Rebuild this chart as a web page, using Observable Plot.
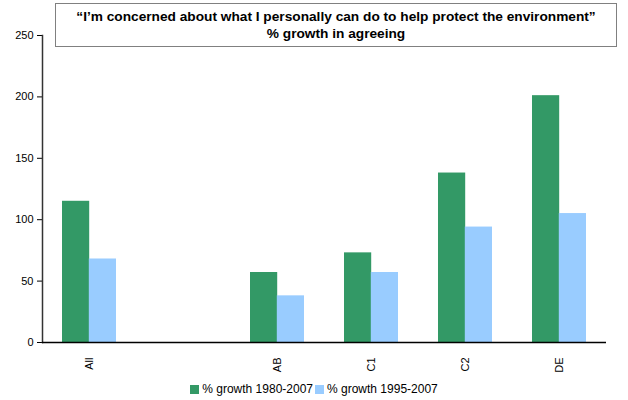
<!DOCTYPE html>
<html>
<head>
<meta charset="utf-8">
<script src="https://cdn.jsdelivr.net/npm/d3@7"></script>
<script src="https://cdn.jsdelivr.net/npm/@observablehq/plot@0.6"></script>
<style>
  html, body { margin: 0; padding: 0; background: #fff; }
  #wrap { position: relative; width: 628px; height: 400px; font-family: "Liberation Sans", Arial, sans-serif; }
  #title { position: absolute; left: 55px; top: 3px; width: 562px; height: 44px; border: 1px solid #808080; background: #fff;
           font-weight: bold; font-size: 13.7px; line-height: 17px; text-align: center; padding-top: 4px; box-sizing: border-box; color: #000; }
  #legend { position: absolute; left: 0; top: 382px; width: 628px; text-align: center; font-size: 12px; color: #000; }
  #legend span.sw { display: inline-block; width: 9px; height: 9px; margin-right: 3px; vertical-align: -1px; }
  #legend span.it { margin: 0 1px; }
</style>
</head>
<body>
<div id="wrap">
  <div id="chart"></div>
  <div id="title">“I’m concerned about what I personally can do to help protect the environment”<br>% growth in agreeing</div>
  <div id="legend"></div>
</div>
<script>
// Categories (including an empty slot between "All" and "AB")
const xDomain = ["All", "", "AB", "C1", "C2", "DE"];
const categories = ["All", "AB", "C1", "C2", "DE"];
const growth1980 = [115, 57, 73, 138, 201];
const growth1995 = [68, 38, 57, 94, 105];
const seriesNames = ["% growth 1980-2007", "% growth 1995-2007"];
const seriesColors = ["#339966", "#99ccff"];
const yTicks = [0, 50, 100, 150, 200, 250];

const d1 = categories.map((c, i) => ({cat: c, value: growth1980[i]}));
const d2 = categories.map((c, i) => ({cat: c, value: growth1995[i]}));

const chart = Plot.plot({
  width: 628,
  height: 375,
  marginLeft: 42,
  marginRight: 22,
  marginTop: 35,
  marginBottom: 33,
  style: {fontFamily: "Liberation Sans, Arial, sans-serif", fontSize: "11px", color: "#000", background: "#fff"},
  x: {domain: xDomain, paddingInner: 0.4255, paddingOuter: 0.2128, round: false, label: null, tickSize: 0, tickPadding: 15, tickRotate: -90},
  y: {domain: [0, 250], ticks: yTicks, label: null, tickSize: 5, tickPadding: 4},
  marks: [
    Plot.barY(d1, {x: "cat", y: "value", fill: seriesColors[0], insetLeft: 0, insetRight: 26.8}),
    Plot.barY(d2, {x: "cat", y: "value", fill: seriesColors[1], insetLeft: 26.8, insetRight: 0}),
    Plot.frame({anchor: "left", stroke: "#333", strokeWidth: 1.5}),
    Plot.ruleY([0], {stroke: "#000", strokeWidth: 1.5})
  ]
});
document.getElementById("chart").appendChild(chart);

const legend = document.getElementById("legend");
seriesNames.forEach((n, i) => {
  const it = document.createElement("span");
  it.className = "it";
  const sw = document.createElement("span");
  sw.className = "sw";
  sw.style.background = seriesColors[i];
  it.appendChild(sw);
  it.appendChild(document.createTextNode(n));
  legend.appendChild(it);
});
</script>
</body>
</html>
